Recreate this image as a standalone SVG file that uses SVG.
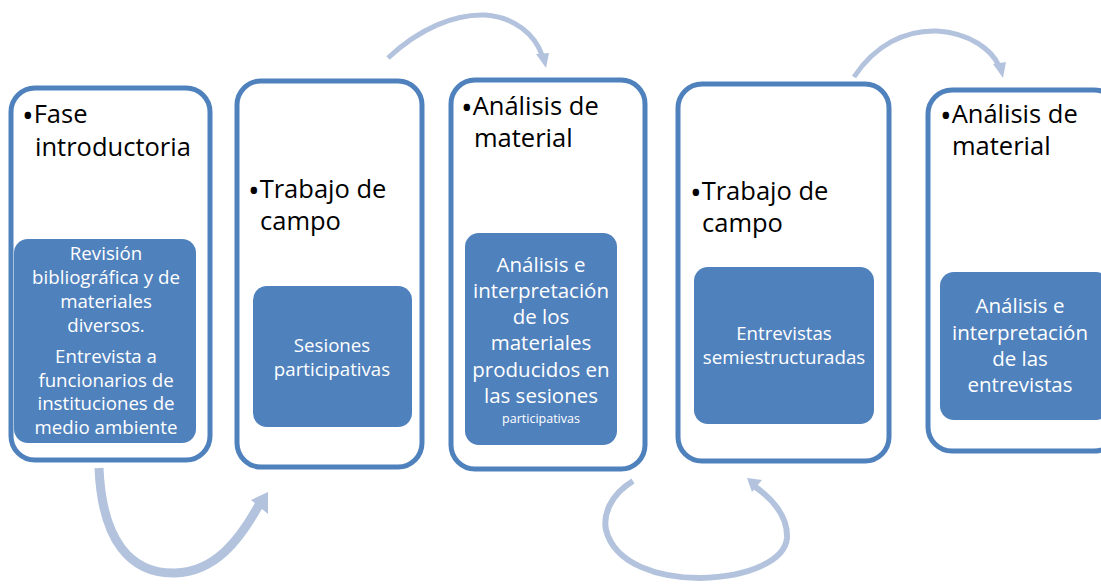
<svg xmlns="http://www.w3.org/2000/svg" width="1101" height="584" viewBox="0 0 1101 584">
<style>
.outer{fill:#fff;stroke:#4f81bd;stroke-width:5}
.inner{fill:#4f81bd;stroke:none}
.head{font-family:"Open Sans","Liberation Sans",sans-serif;font-size:25.5px;fill:#000}
.b{font-size:31px}
.body{font-family:"Open Sans","Liberation Sans",sans-serif;font-size:18.7px;fill:#fff;text-anchor:middle}
.big{font-size:20.5px}
.small{font-size:12.5px}
.arc{fill:none;stroke:#b3c3de}
.ah{fill:#b3c3de}
</style>
<rect width="1101" height="584" fill="#fff"/>
<g id="connectors">
<path class="arc" d="M99,468 C102,540 130,574 175,573 C215,572 240,540 260,503" stroke-width="9"/>
<polygon class="ah" points="268,492 251,500 268,514"/>
<path class="arc" d="M388,58 C420,28 455,14 485,15 C515,17 535,35 542,55" stroke-width="5"/>
<polygon class="ah" points="546,68 536,54 549,53"/>
<path class="arc" d="M633,481 C610,495 603,515 606,530 C615,565 660,578 700,578 C750,577 785,560 787,538 C788,515 770,497 754,486" stroke-width="6"/>
<polygon class="ah" points="747,478 762,480 752,492"/>
<path class="arc" d="M854,77 C875,45 905,30 937,31 C970,33 992,50 999,66" stroke-width="5"/>
<polygon class="ah" points="1003,78 993,64 1006,62"/>
</g>
<g id="node1">
<rect class="outer" x="11" y="88" width="199" height="372" rx="24"/>
<rect class="inner" x="14" y="239" width="182" height="204" rx="14"/>
<text class="head" x="22" y="123"><tspan class="b" dy="4">•</tspan><tspan dy="-4">Fase</tspan></text>
<text class="head" x="35" y="156">introductoria</text>
<text class="body"><tspan x="106" y="260">Revisión</tspan><tspan x="106" y="284">bibliográfica y de</tspan><tspan x="106" y="308">materiales</tspan><tspan x="106" y="332">diversos.</tspan><tspan x="106" y="363">Entrevista a</tspan><tspan x="106" y="387">funcionarios de</tspan><tspan x="106" y="410">instituciones de</tspan><tspan x="106" y="434">medio ambiente</tspan></text>
</g>
<g id="node2">
<rect class="outer" x="237" y="81" width="185" height="386" rx="24"/>
<rect class="inner" x="253" y="286" width="159" height="141" rx="14"/>
<text class="head" x="248" y="198"><tspan class="b" dy="4">•</tspan><tspan dy="-4">Trabajo de</tspan></text>
<text class="head" x="260" y="230">campo</text>
<text class="body"><tspan x="332" y="352">Sesiones</tspan><tspan x="332" y="376">participativas</tspan></text>
</g>
<g id="node3">
<rect class="outer" x="451" y="80" width="194" height="389" rx="24"/>
<rect class="inner" x="465" y="233" width="152" height="212" rx="14"/>
<text class="head" x="461" y="115"><tspan class="b" dy="4">•</tspan><tspan dy="-4">Análisis de</tspan></text>
<text class="head" x="474" y="147">material</text>
<text class="body big"><tspan x="541" y="272">Análisis e</tspan><tspan x="541" y="298">interpretación</tspan><tspan x="541" y="324">de los</tspan><tspan x="541" y="350">materiales</tspan><tspan x="541" y="377">producidos en</tspan><tspan x="541" y="403">las sesiones</tspan><tspan class="small" x="541" y="423">participativas</tspan></text>
</g>
<g id="node4">
<rect class="outer" x="678" y="84" width="211" height="377" rx="24"/>
<rect class="inner" x="694" y="267" width="180" height="157" rx="14"/>
<text class="head" x="690" y="200"><tspan class="b" dy="4">•</tspan><tspan dy="-4">Trabajo de</tspan></text>
<text class="head" x="702" y="232">campo</text>
<text class="body"><tspan x="784" y="340">Entrevistas</tspan><tspan x="784" y="364">semiestructuradas</tspan></text>
</g>
<g id="node5">
<rect class="outer" x="928" y="90" width="190" height="361" rx="24"/>
<rect class="inner" x="940" y="272" width="170" height="148" rx="14"/>
<text class="head" x="940" y="123"><tspan class="b" dy="4">•</tspan><tspan dy="-4">Análisis de</tspan></text>
<text class="head" x="952" y="155">material</text>
<text class="body big"><tspan x="1020" y="313">Análisis e</tspan><tspan x="1020" y="340">interpretación</tspan><tspan x="1020" y="366">de las</tspan><tspan x="1020" y="392">entrevistas</tspan></text>
</g>
</svg>
